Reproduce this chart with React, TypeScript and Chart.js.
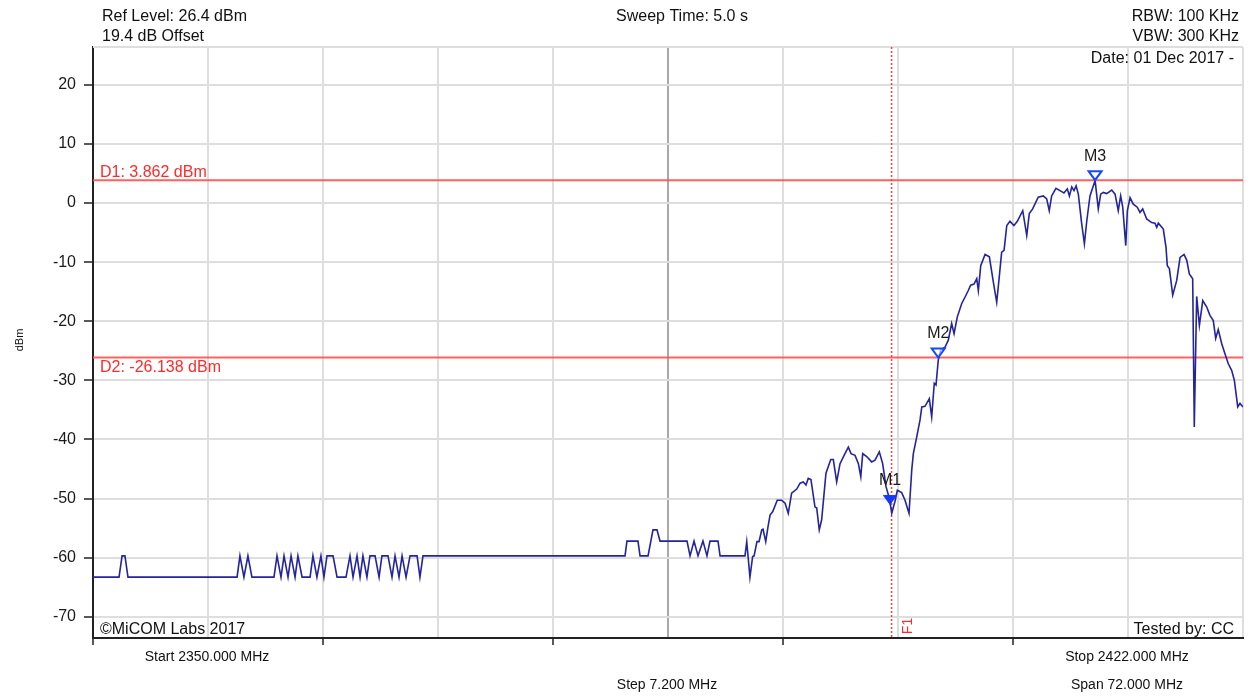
import React, { useEffect, useRef } from 'react';
import { Chart, registerables } from 'chart.js';

Chart.register(...registerables);

// ---- Data ----
const traceMHz = [
  2350.00, 2351.63, 2351.82, 2352.00, 2352.19,
  2359.02, 2359.20, 2359.45, 2359.70, 2359.95,
  2361.33, 2361.52, 2361.77, 2361.96, 2362.21, 2362.40, 2362.65, 2362.83, 2363.09,
  2363.59, 2363.77, 2364.02, 2364.27, 2364.46, 2364.65, 2365.03, 2365.28,
  2365.84, 2366.09, 2366.28, 2366.53, 2366.72, 2366.90, 2367.15, 2367.34, 2367.66, 2367.91,
  2368.09, 2368.47, 2368.72, 2368.91, 2369.16, 2369.35, 2369.60, 2369.85, 2370.29, 2370.47, 2370.66,
  2383.31, 2383.43, 2384.12, 2384.25, 2384.75, 2385.06, 2385.31, 2385.50, 2387.19, 2387.38,
  2387.63, 2387.88, 2388.19, 2388.44, 2388.63, 2389.13, 2389.26, 2390.82,
  2390.93, 2391.13, 2391.30, 2391.39, 2391.57, 2391.70, 2391.87, 2391.95, 2392.12, 2392.26,
  2392.39, 2392.56, 2392.84, 2393.12, 2393.33, 2393.53, 2393.74, 2394.06, 2394.27, 2394.47,
  2394.64, 2394.78, 2394.95, 2395.20, 2395.31, 2395.47, 2395.62, 2395.89, 2396.19, 2396.35,
  2396.56, 2396.77, 2397.08, 2397.29, 2397.46, 2397.71, 2397.92, 2398.07, 2398.19, 2398.44,
  2398.75, 2398.96, 2399.23, 2399.44, 2399.65, 2399.86, 2400.01, 2400.21, 2400.36, 2400.63,
  2400.84, 2401.09, 2401.26, 2401.36, 2401.57, 2401.78, 2401.89, 2402.09, 2402.36, 2402.51,
  2402.67, 2402.78, 2402.92, 2403.07, 2403.34, 2403.55, 2403.76, 2403.91, 2404.11, 2404.39,
  2404.60, 2404.80, 2404.95, 2405.16, 2405.33, 2405.43, 2405.58, 2405.85, 2406.12, 2406.37,
  2406.58, 2406.74, 2406.89, 2407.04, 2407.21, 2407.41, 2407.66, 2407.87, 2408.21, 2408.46,
  2408.62, 2408.83, 2409.18, 2409.50, 2409.71, 2409.87, 2410.02, 2410.29, 2410.54, 2410.79,
  2411.00, 2411.13, 2411.28, 2411.42, 2411.55, 2411.69, 2411.90, 2412.07, 2412.22, 2412.42,
  2412.74, 2412.94, 2413.09, 2413.25, 2413.47, 2413.78, 2413.99, 2414.19, 2414.34, 2414.47,
  2414.66, 2414.76, 2414.93, 2415.13, 2415.38, 2415.55, 2415.72, 2415.97, 2416.28, 2416.49,
  2416.60, 2416.70, 2417.01, 2417.18, 2417.26, 2417.39, 2417.60, 2417.85, 2418.06, 2418.31,
  2418.48, 2418.64, 2418.85, 2418.95, 2419.10, 2419.27, 2419.48, 2419.73, 2419.93, 2420.14,
  2420.29, 2420.45, 2420.67, 2420.87, 2421.08, 2421.29, 2421.46, 2421.67, 2421.81, 2422.00,
];

const traceDbm = [
  -63.3, -63.3, -59.7, -59.7, -63.3,
  -63.3, -59.7, -63.3, -59.7, -63.3,
  -63.3, -59.7, -63.3, -59.7, -63.3, -59.7, -63.3, -59.7, -63.3,
  -63.3, -59.7, -63.3, -59.7, -63.3, -59.7, -59.7, -63.3,
  -63.3, -59.7, -63.3, -59.7, -63.3, -59.7, -63.3, -59.7, -59.7, -63.3,
  -59.7, -59.7, -63.3, -59.7, -63.3, -59.7, -63.3, -59.7, -59.7, -63.3, -59.7,
  -59.7, -57.2, -57.2, -59.7, -59.7, -55.3, -55.3, -57.2, -57.2, -59.7,
  -57.2, -59.7, -57.2, -59.7, -57.2, -57.2, -59.7, -59.7,
  -57.3, -63.3, -59.8, -59.7, -57.3, -57.3, -55.3, -55.2, -57.3, -54.8,
  -52.8, -52.2, -50.3, -50.3, -50.8, -52.5, -49.1, -48.4, -47.4, -47.2,
  -47.7, -46.6, -46.8, -51.4, -51.6, -55.3, -53.6, -45.7, -43.4, -43.4,
  -47.2, -44.1, -42.4, -41.3, -42.4, -42.7, -44.1, -46.3, -42.4, -42.9,
  -43.8, -43.5, -42.1, -44.1, -48.0, -50.0, -52.5, -50.5, -48.6, -49.0,
  -50.3, -52.5, -45.2, -42.4, -39.6, -36.7, -34.5, -34.4, -33.1, -36.2,
  -30.5, -30.8, -26.6, -24.9, -24.4, -23.2, -20.4, -22.1, -19.3, -17.0,
  -15.9, -14.8, -13.9, -13.7, -12.8, -14.8, -10.6, -8.7, -9.1, -13.4,
  -16.8, -12.5, -8.3, -8.0, -3.8, -3.1, -3.8, -3.1, -1.3, -5.5,
  -1.8, -1.0, 1.0, 1.2, 0.7, -1.3, 1.2, 2.5, 2.1, 1.7,
  2.4, 1.2, 2.7, 2.1, 2.9, 1.5, -3.5, -6.9, -3.0, 1.2,
  3.8, -1.0, 1.5, 1.8, 1.6, 2.2, 1.5, -1.3, 1.2, -0.7,
  -7.2, -1.3, 0.9, -0.2, -0.7, -1.6, -1.0, -2.7, -3.3, -3.4,
  -4.1, -3.4, -4.4, -7.5, -10.6, -11.1, -15.6, -13.1, -9.2, -8.7,
  -9.7, -12.0, -12.8, -37.9, -15.8, -20.7, -16.5, -17.6, -19.0, -19.9,
  -22.9, -21.4, -23.8, -25.5, -27.2, -28.3, -30.0, -34.5, -33.9, -34.5,
];

const yTicks = [-70, -60, -50, -40, -30, -20, -10, 0, 10, 20];
const xGrid = [2350, 2357.2, 2364.4, 2371.6, 2378.8, 2386, 2393.2, 2400.4, 2407.6, 2414.8, 2422];
const yMin = -73.6;
const yMax = 26.4;

const markerNames = ['M1', 'M2', 'M3'];
const markerMHz = [2399.9, 2402.92, 2412.74];
const markerDbm = [-51.0, -26.138, 3.862];
const markerFilled = [true, false, false];

const deltaNames = ['D1: 3.862 dBm', 'D2: -26.138 dBm'];
const deltaDbm = [3.862, -26.138];
const f1MHz = 2400;

const headerLeft = ['Ref Level: 26.4 dBm', '19.4 dB Offset'];
const headerCenter = 'Sweep Time: 5.0 s';
const headerRight = ['RBW: 100 KHz', 'VBW: 300 KHz'];
const dateText = 'Date: 01 Dec 2017 -';
const copyrightText = '\u00A9MiCOM Labs 2017';
const testedText = 'Tested by: CC';
const startText = 'Start 2350.000 MHz';
const stopText = 'Stop 2422.000 MHz';
const stepText = 'Step 7.200 MHz';
const spanText = 'Span 72.000 MHz';

const FONT = '"Liberation Sans", Arial, sans-serif';

const overlayPlugin = {
  id: 'overlay',
  beforeDatasetsDraw(chart: any) {
    const { ctx, chartArea, scales } = chart;
    const { left, right, top, bottom } = chartArea;
    const x = scales.x;
    const y = scales.y;
    ctx.save();
    // top frame line
    ctx.strokeStyle = '#dedede';
    ctx.lineWidth = 2;
    ctx.beginPath();
    ctx.moveTo(left, top);
    ctx.lineTo(right, top);
    ctx.stroke();

    // delta lines
    ctx.strokeStyle = 'rgba(255,80,80,0.9)';
    ctx.lineWidth = 2;
    deltaDbm.forEach((v, i) => {
      const py = y.getPixelForValue(v);
      ctx.beginPath();
      ctx.moveTo(left, py);
      ctx.lineTo(right, py);
      ctx.stroke();
      ctx.fillStyle = '#ff2a2a';
      ctx.font = `16px ${FONT}`;
      ctx.textAlign = 'left';
      ctx.textBaseline = 'alphabetic';
      const by = i === 0 ? py - 3 : py + 15;
      ctx.fillText(deltaNames[i], left + 7, by);
    });

    // F1 dashed vertical line
    const fx = x.getPixelForValue(f1MHz);
    ctx.strokeStyle = '#ff4040';
    ctx.lineWidth = 1.5;
    ctx.setLineDash([2, 2]);
    ctx.beginPath();
    ctx.moveTo(fx, top);
    ctx.lineTo(fx, bottom);
    ctx.stroke();
    ctx.setLineDash([]);
    ctx.save();
    ctx.translate(fx + 17, bottom - 12);
    ctx.rotate(-Math.PI / 2);
    ctx.fillStyle = '#ff2a2a';
    ctx.font = `14px ${FONT}`;
    ctx.textAlign = 'center';
    ctx.textBaseline = 'middle';
    ctx.fillText('F1', 0, 0);
    ctx.restore();
    ctx.restore();
  },
  afterDatasetsDraw(chart: any) {
    const { ctx, scales } = chart;
    const x = scales.x;
    const y = scales.y;
    ctx.save();
    markerNames.forEach((name, i) => {
      const px = x.getPixelForValue(markerMHz[i]);
      const py = y.getPixelForValue(markerDbm[i]);
      ctx.beginPath();
      ctx.moveTo(px - 6.5, py - 9);
      ctx.lineTo(px + 6.5, py - 9);
      ctx.lineTo(px, py);
      ctx.closePath();
      if (markerFilled[i]) {
        ctx.fillStyle = '#1438ff';
        ctx.fill();
        ctx.strokeStyle = '#1438ff';
        ctx.lineWidth = 1;
        ctx.stroke();
      } else {
        ctx.fillStyle = 'rgba(255,255,255,0.6)';
        ctx.fill();
        ctx.strokeStyle = '#1448ff';
        ctx.lineWidth = 2;
        ctx.stroke();
      }
      ctx.fillStyle = '#1a1a1a';
      ctx.font = `16px ${FONT}`;
      ctx.textAlign = 'center';
      ctx.textBaseline = 'alphabetic';
      ctx.fillText(name, px, py - 19);
    });
    ctx.restore();
  },
  afterDraw(chart: any) {
    const { ctx } = chart;
    ctx.save();
    ctx.fillStyle = '#111111';
    ctx.textBaseline = 'alphabetic';
    ctx.font = `16px ${FONT}`;
    ctx.textAlign = 'left';
    ctx.fillText(headerLeft[0], 102, 21);
    ctx.fillText(headerLeft[1], 102, 41);
    ctx.fillText(copyrightText, 100, 634);
    ctx.textAlign = 'center';
    ctx.fillText(headerCenter, 682, 21);
    ctx.textAlign = 'right';
    ctx.fillText(headerRight[0], 1239, 21);
    ctx.fillText(headerRight[1], 1239, 41);
    ctx.fillText(dateText, 1234, 63);
    ctx.fillText(testedText, 1234, 634);

    ctx.font = `14px ${FONT}`;
    ctx.textAlign = 'center';
    ctx.fillText(startText, 207, 661);
    ctx.fillText(stopText, 1127, 661);
    ctx.fillText(stepText, 667, 689);
    ctx.fillText(spanText, 1127, 689);

    // y axis title
    ctx.save();
    ctx.translate(20, 340);
    ctx.rotate(-Math.PI / 2);
    ctx.font = `11px ${FONT}`;
    ctx.textAlign = 'center';
    ctx.textBaseline = 'middle';
    ctx.fillText('dBm', 0, 0);
    ctx.restore();
    ctx.restore();
  },
};

export default function App() {
  const canvasRef = useRef<HTMLCanvasElement | null>(null);

  useEffect(() => {
    const canvas = canvasRef.current;
    if (!canvas) return;
    const points = traceMHz.map((f, i) => ({ x: f, y: traceDbm[i] }));
    const chart = new Chart(canvas, {
      type: 'line',
      data: {
        datasets: [
          {
            data: points,
            borderColor: '#24249c',
            borderWidth: 1.6,
            pointRadius: 0,
            tension: 0,
            fill: false,
          },
        ],
      },
      options: {
        animation: false,
        responsive: false,
        devicePixelRatio: 1,
        layout: { padding: { top: 47, right: 7, left: 0, bottom: 0 } },
        plugins: {
          legend: { display: false },
          tooltip: { enabled: false },
          title: { display: false },
        },
        scales: {
          x: {
            type: 'linear',
            min: 2350,
            max: 2422,
            afterBuildTicks: (scale: any) => {
              scale.ticks = xGrid.map((v) => ({ value: v }));
            },
            afterFit: (scale: any) => {
              scale.height = 58;
            },
            ticks: { display: false, autoSkip: false },
            grid: {
              color: (c: any) => (c.index === 5 ? '#a9a9a9' : '#dedede'),
              lineWidth: 2,
              drawTicks: true,
              tickLength: 7,
              tickWidth: 1.5,
              tickColor: (c: any) =>
                c.index % 2 === 0 && c.index < 10 ? '#222222' : 'rgba(0,0,0,0)',
            },
            border: { color: '#222222', width: 2 },
          },
          y: {
            type: 'linear',
            min: yMin,
            max: yMax,
            afterBuildTicks: (scale: any) => {
              scale.ticks = yTicks.map((v) => ({ value: v }));
            },
            afterFit: (scale: any) => {
              scale.width = 93;
            },
            ticks: {
              autoSkip: false,
              padding: 8,
              color: '#1a1a1a',
              font: { family: FONT, size: 16 },
              callback: (v: any) => String(v),
            },
            grid: {
              color: '#dedede',
              lineWidth: 2,
              drawTicks: true,
              tickLength: 9,
              tickWidth: 1.5,
              tickColor: '#222222',
            },
            border: { color: '#222222', width: 2 },
          },
        },
      },
      plugins: [overlayPlugin],
    });
    return () => chart.destroy();
  }, []);

  return (
    <div style={{ position: 'absolute', left: 0, top: 0, width: 1250, height: 696, background: '#ffffff' }}>
      <canvas ref={canvasRef} width={1250} height={696} />
    </div>
  );
}
